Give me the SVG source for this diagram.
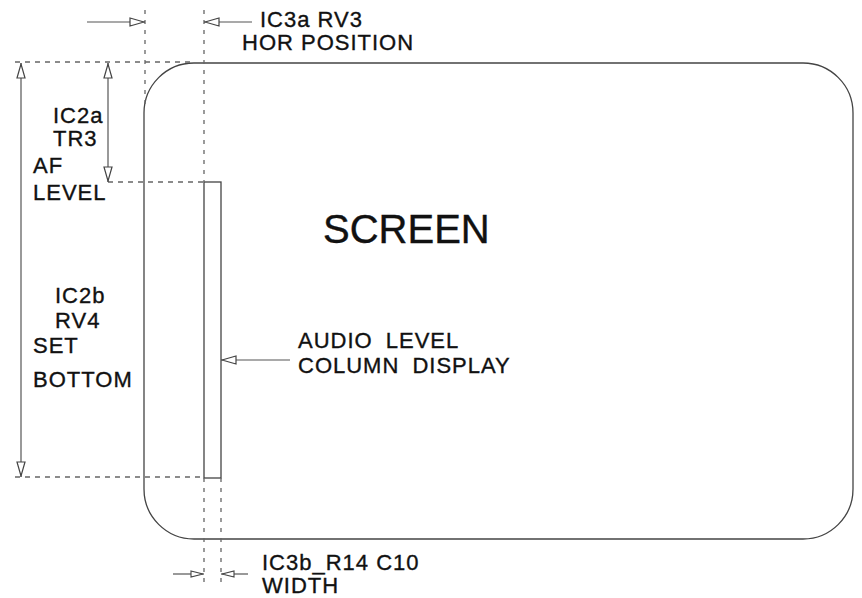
<svg xmlns="http://www.w3.org/2000/svg" width="862" height="598" viewBox="0 0 862 598">
  <style>
    .t { font-family: "Liberation Sans", Arial, sans-serif; font-size: 22px; letter-spacing: 1px; fill: #111; stroke: #111; stroke-width: 0.35; }
    .big { font-size: 40px; letter-spacing: 0; stroke-width: 0.4; }
    .solid { fill: none; stroke: #444; stroke-width: 1.3; }
    .dash { fill: none; stroke: #666; stroke-width: 1.3; stroke-dasharray: 5 5; }
    .dot { fill: none; stroke: #666; stroke-width: 1.3; stroke-dasharray: 4 6; }
    .arr { fill: none; stroke: #555; stroke-width: 1.2; }
  </style>
  <defs>
    <marker id="ah" viewBox="0 0 16 10" refX="16" refY="5" markerWidth="16" markerHeight="10" markerUnits="userSpaceOnUse" orient="auto-start-reverse">
      <path d="M1,1 L15,5 L1,9 Z" fill="#fff" stroke="#444" stroke-width="1.2"/>
    </marker>
    <marker id="ahs" viewBox="0 0 14 8" refX="14" refY="4" markerWidth="14" markerHeight="8" markerUnits="userSpaceOnUse" orient="auto-start-reverse">
      <path d="M1,1 L13,4 L1,7 Z" fill="#fff" stroke="#444" stroke-width="1.1"/>
    </marker>
  </defs>
  <rect width="862" height="598" fill="#fff"/>

  <g id="screen">
    <rect class="solid" x="144" y="63" width="709" height="476" rx="50" ry="50"/>
    <text class="t big" x="323" y="243">SCREEN</text>
  </g>

  <g id="column-display">
    <rect class="solid" x="204" y="182" width="17" height="296"/>
  </g>

  <g id="connectors">
    <path class="dash" d="M15,62 H190"/>
    <path class="dash" d="M108,182 H204"/>
    <path class="dash" d="M15,477 H204"/>
    <path class="dot" d="M145,10 V107"/>
    <path class="dot" d="M204,10 V182"/>
    <path class="dot" d="M204,478 V582"/>
    <path class="dot" d="M221,478 V582"/>
    <path class="arr" d="M87,22 H145" marker-end="url(#ah)"/>
    <path class="arr" d="M252,22 H204" marker-end="url(#ah)"/>
    <path class="arr" d="M21,63 V477" marker-start="url(#ah)" marker-end="url(#ah)"/>
    <path class="arr" d="M108,63 V182" marker-start="url(#ah)" marker-end="url(#ah)"/>
    <path class="arr" d="M290,360 H221" marker-end="url(#ah)"/>
    <path class="arr" d="M173,574 H204" marker-end="url(#ahs)"/>
    <path class="arr" d="M248,574 H221" marker-end="url(#ahs)"/>
  </g>

  <g id="label-hor-position">
    <text class="t" x="260" y="27">IC3a RV3</text>
    <text class="t" x="242" y="50">HOR POSITION</text>
  </g>
  <g id="label-af-level">
    <text class="t" x="53" y="123">IC2a</text>
    <text class="t" x="53" y="146">TR3</text>
    <text class="t" x="33" y="173">AF</text>
    <text class="t" x="33" y="200">LEVEL</text>
  </g>
  <g id="label-set-bottom">
    <text class="t" x="55" y="303">IC2b</text>
    <text class="t" x="55" y="328">RV4</text>
    <text class="t" x="33" y="353">SET</text>
    <text class="t" x="33" y="387">BOTTOM</text>
  </g>
  <g id="label-audio">
    <text class="t" x="298" y="348" word-spacing="6">AUDIO LEVEL</text>
    <text class="t" x="298" y="373" word-spacing="6">COLUMN DISPLAY</text>
  </g>
  <g id="label-width">
    <text class="t" x="262" y="570">IC3b_R14 C10</text>
    <text class="t" x="262" y="593">WIDTH</text>
  </g>
</svg>
